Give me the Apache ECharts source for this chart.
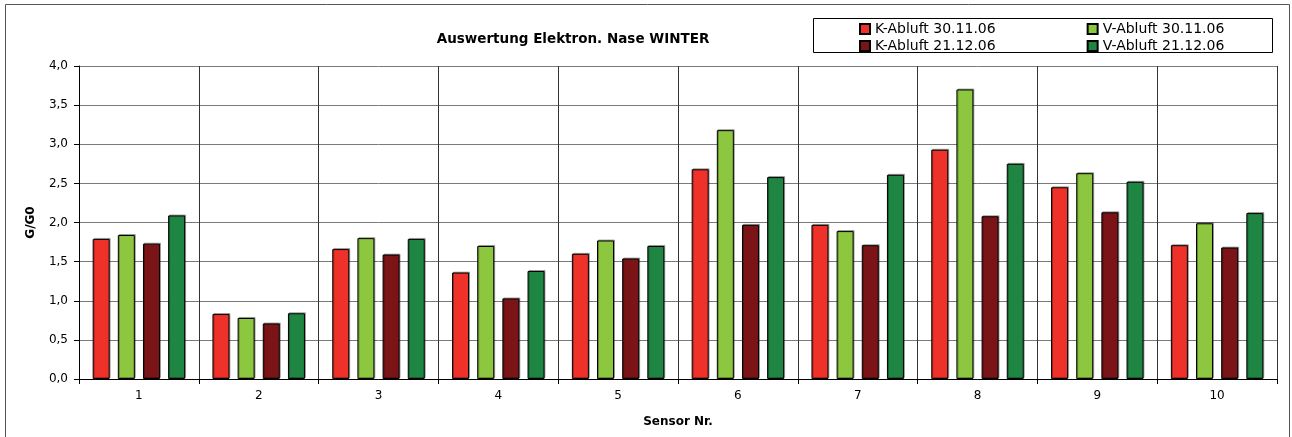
<!DOCTYPE html>
<html><head><meta charset="utf-8">
<script src="https://cdn.jsdelivr.net/npm/echarts@6/dist/echarts.min.js"></script>
<style>html,body{margin:0;padding:0;background:#fff}#c{width:1292px;height:437px}</style>
</head><body><div id="c"></div>
<script>
const categories = ['1','2','3','4','5','6','7','8','9','10'];
const kAbluft3011 = [1.79, 0.83, 1.66, 1.36, 1.60, 2.68, 1.97, 2.93, 2.45, 1.71];
const vAbluft3011 = [1.84, 0.78, 1.80, 1.70, 1.77, 3.18, 1.89, 3.70, 2.63, 1.99];
const kAbluft2112 = [1.73, 0.71, 1.59, 1.03, 1.54, 1.97, 1.71, 2.08, 2.13, 1.68];
const vAbluft2112 = [2.09, 0.84, 1.79, 1.38, 1.70, 2.58, 2.61, 2.75, 2.52, 2.12];
const seriesNames = ['K-Abluft 30.11.06','V-Abluft 30.11.06','K-Abluft 21.12.06','V-Abluft 21.12.06'];
const colors = ['#EE3229','#8DC63F','#7A1416','#1E8642'];

const chart = echarts.init(document.getElementById('c'), null, {renderer:'canvas'});
const font = '"DejaVu Sans", Arial, sans-serif';
function mk(name, data, color){
  return {name, type:'bar', data, barWidth:17, barGap:'48%',
    itemStyle:{color, borderColor:'#000', borderWidth:1, shadowColor:'rgba(0,0,0,0.3)', shadowOffsetX:1, shadowOffsetY:-1, shadowBlur:0}};
}
const legendText = {fontFamily:font, fontSize:14, color:'#000', width:124, overflow:'none'};
chart.setOption({
  animation:false,
  color: colors,
  title:{text:'Auswertung Elektron. Nase WINTER', left:568, top:27, textAlign:'center',
    textStyle:{fontFamily:font, fontWeight:'bold', fontSize:13.5, color:'#000'}},
  legend:[
    {data:[seriesNames[0], seriesNames[1]], left:859, top:22, itemWidth:10, itemHeight:10, itemGap:91,
     icon:'rect', textStyle:legendText, padding:0},
    {data:[seriesNames[2], seriesNames[3]], left:859, top:39, itemWidth:10, itemHeight:10, itemGap:91,
     icon:'rect', textStyle:legendText, padding:0}
  ],
  graphic:[
    {type:'rect', shape:{x:5.5, y:4.5, width:1284, height:440}, style:{fill:'none', stroke:'#555', lineWidth:1}, silent:true, z:-10},
    {type:'rect', shape:{x:813.5, y:18.5, width:459, height:34}, style:{fill:'none', stroke:'#000', lineWidth:1}, silent:true}
  ],
  grid:{left:79, right:15, top:66, bottom:58, containLabel:false},
  xAxis:{type:'category', data:categories, boundaryGap:true,
    name:'Sensor Nr.', nameLocation:'middle', nameGap:37,
    nameTextStyle:{fontFamily:font, fontWeight:'bold', fontSize:12, color:'#000'},
    axisLine:{lineStyle:{color:'#000', width:1}},
    axisTick:{show:true, alignWithLabel:false, length:5, lineStyle:{color:'#000'}},
    axisLabel:{fontFamily:font, fontSize:12, color:'#000', margin:11},
    splitLine:{show:true, lineStyle:{color:'#333', width:1}}},
  yAxis:{type:'value', min:0, max:4, interval:0.5,
    name:'G/G0', nameLocation:'middle', nameGap:42, nameRotate:90,
    nameTextStyle:{fontFamily:font, fontWeight:'bold', fontSize:12, color:'#000'},
    axisLine:{show:true, lineStyle:{color:'#000', width:1}},
    axisTick:{show:true, length:5, lineStyle:{color:'#000'}},
    axisLabel:{fontFamily:font, fontSize:12, color:'#000', margin:11,
      formatter:v=>v.toFixed(1).replace('.',',')},
    splitLine:{show:true, lineStyle:{color:'#7a7a7a', width:1}}},
  series:[
    mk(seriesNames[0], kAbluft3011, colors[0]),
    mk(seriesNames[1], vAbluft3011, colors[1]),
    mk(seriesNames[2], kAbluft2112, colors[2]),
    mk(seriesNames[3], vAbluft2112, colors[3])
  ]
});
</script></body></html>
